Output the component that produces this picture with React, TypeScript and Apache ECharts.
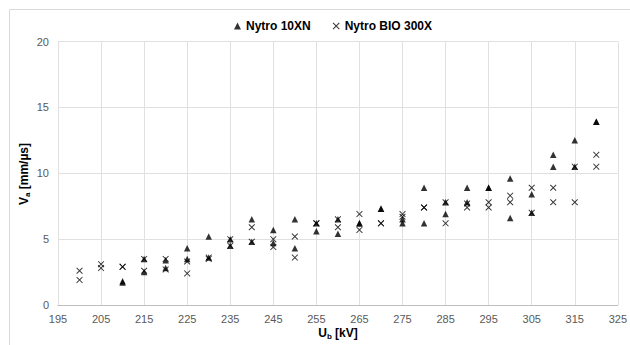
import React, { useEffect, useRef } from "react";
import * as echarts from "echarts";

const voltages = [200, 205, 210, 215, 220, 225, 230, 235, 240, 245, 250, 255, 260, 265, 270, 275, 280, 285, 290, 295, 300, 305, 310, 315, 320];
const nytro10xnA: (number | null)[] = [null, null, 1.8, 3.5, 3.4, 4.3, 5.2, 5.0, 6.5, 5.7, 6.5, 6.2, 6.5, 6.2, 7.3, 6.5, 8.9, 7.8, 8.9, 8.9, 9.6, 8.4, 11.4, 12.5, 13.9];
const nytro10xnB: (number | null)[] = [null, null, 1.7, 2.5, 2.8, 3.5, 3.6, 4.5, 4.8, 4.7, 4.3, 5.6, 5.4, 6.2, 7.3, 6.2, 6.2, 6.9, 7.8, 8.9, 6.6, 7.0, 10.5, 10.5, 13.9];
const bio300xA: number[] = [2.6, 3.1, 2.9, 3.5, 3.5, 3.3, 3.6, 5.0, 5.9, 5.0, 5.2, 6.2, 6.5, 6.9, 6.2, 6.9, 7.4, 7.8, 7.7, 7.8, 8.3, 8.9, 8.9, 10.5, 11.4];
const bio300xB: number[] = [1.9, 2.8, 2.9, 2.6, 2.7, 2.4, 3.5, 4.5, 4.8, 4.4, 3.6, 6.2, 5.9, 5.7, 6.2, 6.7, 7.4, 6.2, 7.4, 7.4, 7.8, 7.0, 7.8, 7.8, 10.5];

const seriesNames = ["Nytro 10XN", "Nytro BIO 300X"];
const xTitle = "{b|U}{s|b}{b| [kV]}";
const yTitle = "{b|V}{s|a}{b| [mm/µs]}";

const crossPath = "path://M0,1L1,0L5,4L9,0L10,1L6,5L10,9L9,10L5,6L1,10L0,9L4,5Z";

function pairs(xs: number[], a: (number | null)[], b: (number | null)[]) {
  const out: number[][] = [];
  xs.forEach((x, i) => {
    if (a[i] != null) out.push([x, a[i] as number]);
    if (b[i] != null) out.push([x, b[i] as number]);
  });
  return out;
}

export default function App() {
  const ref = useRef<HTMLDivElement>(null);
  useEffect(() => {
    document.body.style.margin = "0";
    const chart = echarts.init(ref.current!, null, { renderer: "svg" });
    const font = "'Liberation Sans', Arial, sans-serif";
    const rich = {
      b: { fontFamily: font, fontSize: 12, fontWeight: "bold", fill: "#000", color: "#000" },
      s: { fontFamily: font, fontSize: 8, fontWeight: "bold", fill: "#000", color: "#000", padding: [7, 0, 0, 0] },
    };
    chart.setOption({
      animation: false,
      backgroundColor: "#ffffff",
      textStyle: { fontFamily: font },
      graphic: [
        {
          type: "rect",
          shape: { x: 9.5, y: 9.5, width: 640, height: 360 },
          style: { fill: "none", stroke: "#d9d9d9", lineWidth: 1 },
          silent: true,
        },
        {
          type: "text",
          x: 338,
          y: 333,
          style: { text: xTitle, rich, align: "center", verticalAlign: "middle" },
          silent: true,
        },
        {
          type: "text",
          x: 24,
          y: 174,
          rotation: Math.PI / 2,
          style: { text: yTitle, rich, align: "center", verticalAlign: "middle" },
          silent: true,
        },
      ],
      legend: {
        top: 15,
        left: 229,
        itemGap: 22,
        itemWidth: 7,
        itemHeight: 7,
        textStyle: { fontFamily: font, fontSize: 12, fontWeight: "bold", color: "#000" },
        data: [
          { name: seriesNames[0], icon: "triangle", itemStyle: { color: "#000" } },
          { name: seriesNames[1], icon: crossPath, itemStyle: { color: "#000" } },
        ],
      },
      grid: { left: 58, right: 9, top: 41.5, bottom: 40, containLabel: false },
      xAxis: {
        type: "value",
        min: 195,
        max: 325,
        interval: 10,
        axisLine: { show: true, lineStyle: { color: "#bfbfbf" } },
        axisTick: { show: false },
        axisLabel: { color: "#595959", fontSize: 11, fontFamily: font, margin: 8 },
        splitLine: { show: true, lineStyle: { color: "#e0e0e0" } },
      },
      yAxis: {
        type: "value",
        min: 0,
        max: 20,
        interval: 5,
        axisLine: { show: false },
        axisTick: { show: false },
        axisLabel: { color: "#595959", fontSize: 11, fontFamily: font, margin: 9 },
        splitLine: { show: true, lineStyle: { color: "#e0e0e0" } },
      },
      series: [
        {
          name: seriesNames[0],
          type: "scatter",
          symbol: "triangle",
          symbolSize: 6.5,
          itemStyle: { color: "#000" },
          data: pairs(voltages, nytro10xnA, nytro10xnB),
        },
        {
          name: seriesNames[1],
          type: "scatter",
          symbol: crossPath,
          symbolSize: 6.5,
          itemStyle: { color: "#000" },
          data: pairs(voltages, bio300xA, bio300xB),
        },
      ],
    });
    return () => chart.dispose();
  }, []);
  return <div ref={ref} style={{ position: "absolute", left: 0, top: 0, width: 630, height: 345 }} />;
}
